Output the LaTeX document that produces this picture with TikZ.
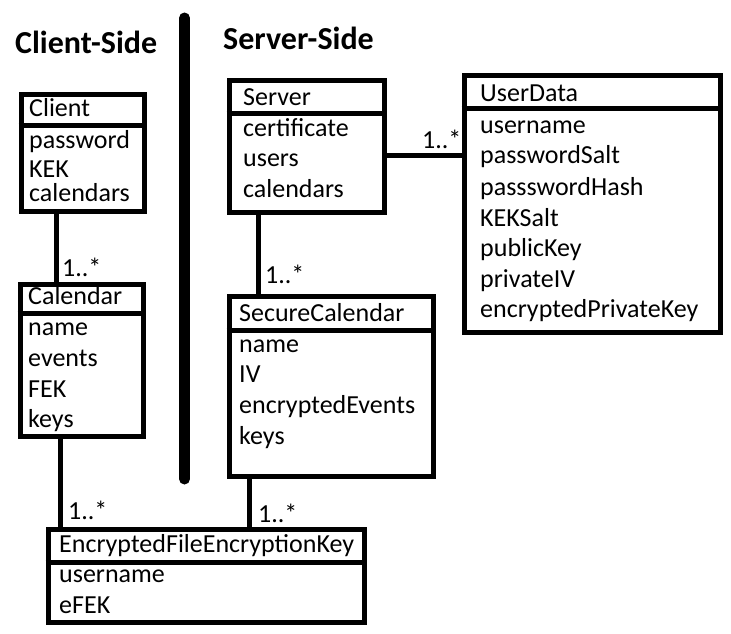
\documentclass[tikz,border=0pt]{standalone}
\usepackage{fontspec}
\setmainfont{Carlito}
\usetikzlibrary{fit}
\begin{document}
\begin{tikzpicture}[x=1pt,y=-1pt,
  umlbox/.style={draw=black, line width=5pt, inner sep=0pt},
  umlline/.style={draw=black, line width=5pt},
  txt/.style={anchor=base west, inner sep=0pt, font=\fontsize{26}{26}\selectfont},
  ttl/.style={anchor=base west, inner sep=0pt, font=\fontsize{32}{32}\selectfont\bfseries},
  mult/.style={anchor=base west, inner sep=0pt, font=\fontsize{26}{26}\selectfont}]
\fill[white] (0,0) rectangle (731,634);
\useasboundingbox (0,0) rectangle (731,634);

% titles and separator
\node[ttl] (tclient) at (15,54) {Client-Side};
\node[ttl] (tserver) at (223,50) {Server-Side};
\draw[line width=11pt, line cap=round] (184.5,18) -- (184.5,479);

% boxes
\node[umlbox, fit={(21,94) (144,211)}] (client) {};
\node[umlbox, fit={(229,81) (384,212)}] (server) {};
\node[umlbox, fit={(464,76) (720,332)}] (userdata) {};
\node[umlbox, fit={(20,284) (143,436)}] (calendar) {};
\node[umlbox, fit={(229,296) (433,476)}] (securecal) {};
\node[umlbox, fit={(48,529) (364,622)}] (efek) {};

% header dividers
\draw[umlline] (client.west |- 0,125) -- (client.east |- 0,125);
\draw[umlline] (server.west |- 0,113) -- (server.east |- 0,113);
\draw[umlline] (userdata.west |- 0,108) -- (userdata.east |- 0,108);
\draw[umlline] (calendar.west |- 0,313) -- (calendar.east |- 0,313);
\draw[umlline] (securecal.west |- 0,330) -- (securecal.east |- 0,330);
\draw[umlline] (efek.west |- 0,562) -- (efek.east |- 0,562);

% texts: Client
\node[txt] (clientn) at (29,117) {Client};
\node[txt] (clienta1) at (29,148) {password};
\node[txt] (clienta2) at (29,177) {KEK};
\node[txt] (clienta3) at (29,201) {calendars};
% Server
\node[txt] (servern) at (243,106) {Server};
\node[txt] (servera1) at (243,136) {certificate};
\node[txt] (servera2) at (243,166) {users};
\node[txt] (servera3) at (243,197) {calendars};
% UserData
\node[txt] (udn) at (480,101) {UserData};
\node[txt] (uda1) at (480,133) {username};
\node[txt] (uda2) at (480,163) {passwordSalt};
\node[txt] (uda3) at (480,195) {passswordHash};
\node[txt] (uda4) at (480,226) {KEKSalt};
\node[txt] (uda5) at (480,256) {publicKey};
\node[txt] (uda6) at (480,287) {privateIV};
\node[txt] (uda7) at (480,317) {encryptedPrivateKey};
% Calendar
\node[txt] (caln) at (28,304) {Calendar};
\node[txt] (cala1) at (28,335) {name};
\node[txt] (cala2) at (28,366) {events};
\node[txt] (cala3) at (28,397) {FEK};
\node[txt] (cala4) at (28,427) {keys};
% SecureCalendar
\node[txt] (scn) at (239,321) {SecureCalendar};
\node[txt] (sca1) at (239,352) {name};
\node[txt] (sca2) at (239,382) {IV};
\node[txt] (sca3) at (239,413) {encryptedEvents};
\node[txt] (sca4) at (239,444) {keys};
% EFEK
\node[txt] (efn) at (59,552) {EncryptedFileEncryptionKey};
\node[txt] (efa1) at (59,582) {username};
\node[txt] (efa2) at (59,613) {eFEK};

% connectors
\draw[umlline] (56,0 |- client.south) -- (56,0 |- calendar.north);
\draw[umlline] (258,0 |- server.south) -- (258,0 |- securecal.north);
\draw[umlline] (server.east |- 0,155) -- (userdata.west |- 0,155);
\draw[umlline] (60,0 |- calendar.south) -- (60,0 |- efek.north);
\draw[umlline] (249,0 |- securecal.south) -- (249,0 |- efek.north);

% multiplicities
\node[mult] (m1) at (62,276) {1..*};
\node[mult] (m2) at (265,283) {1..*};
\node[mult] (m3) at (422,148) {1..*};
\node[mult] (m4) at (68,519) {1..*};
\node[mult] (m5) at (258,522) {1..*};
\end{tikzpicture}
\end{document}
